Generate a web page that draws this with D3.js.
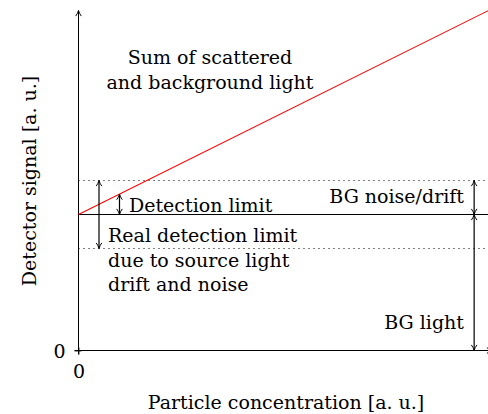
<!DOCTYPE html>
<html><head><meta charset="utf-8">
<script src="https://cdn.jsdelivr.net/npm/d3@7"></script>
<style>body{margin:0;background:#fff}svg{display:block}text{font-family:"DejaVu Serif",serif;fill:#000}</style>
</head><body><svg id="c" width="488" height="414"></svg>
<script>
// data
const xDomain = [0, 10];
const yDomain = [0, 10];
const bgLevel = [4];
const noise = [1];
const sumLine = [[0, 4], [10, 10]];
const detX = [1];
const realX = [0.5];
const rightX = [9.65];
const xTicks = [0];
const yTicks = [0];
const labels = {
  sum: ["Sum of scattered", "and background light"],
  det: ["Detection limit"],
  real: ["Real detection limit", "due to source light", "drift and noise"],
  bgNoise: ["BG noise/drift"],
  bgLight: ["BG light"],
  xTitle: "Particle concentration [a. u.]",
  yTitle: "Detector signal [a. u.]"
};

const svg = d3.select("#c");
const x = d3.scaleLinear().domain(xDomain).range([78.5, 488.5]);
const y = d3.scaleLinear().domain(yDomain).range([350.5, 10.5]);
const FS = 19;

const defs = svg.append("defs");
defs.append("marker").attr("id","ah").attr("viewBox","0 0 10 10").attr("refX",9).attr("refY",5)
  .attr("markerWidth",7).attr("markerHeight",7).attr("markerUnits","userSpaceOnUse").attr("orient","auto-start-reverse")
  .append("path").attr("d","M1,1 Q5,4 9,5 Q5,6 1,9").attr("fill","none").attr("stroke","#000").attr("stroke-width",1.4);

// ticks via d3 axes
const xAxis = d3.axisBottom(x).tickValues(xTicks).tickSize(4).tickFormat(d3.format("d"));
const yAxis = d3.axisLeft(y).tickValues(yTicks).tickSize(4).tickFormat(d3.format("d"));
const gx = svg.append("g").attr("transform",`translate(0,${y(0)})`).call(xAxis);
gx.select(".domain").remove();
gx.selectAll("text").attr("font-size",FS).attr("y",27).attr("dy",0).attr("font-family","DejaVu Serif, serif");
const gy = svg.append("g").attr("transform",`translate(${x(0)},0)`).call(yAxis);
gy.select(".domain").remove();
gy.selectAll("text").attr("font-size",FS).attr("x",-13).attr("dy","0.35em").attr("font-family","DejaVu Serif, serif");
svg.selectAll(".tick line").attr("stroke","#000").attr("stroke-width",0.8);
gx.selectAll(".tick line").attr("y1",-3).attr("y2",4);
gy.selectAll(".tick line").attr("x1",3).attr("x2",-4);

// axis lines with arrows
svg.append("line").attr("x1",x(0)).attr("x2",x(0)).attr("y1",y(0)+4).attr("y2",y(10)).attr("stroke","#000").attr("stroke-width",1).attr("marker-end","url(#ah)");
svg.append("line").attr("x1",x(0)-4).attr("x2",x(10)+4).attr("y1",y(0)).attr("y2",y(0)).attr("stroke","#000").attr("stroke-width",1).attr("marker-end","url(#ah)");

// dotted noise lines
[bgLevel[0]+noise[0], bgLevel[0]-noise[0]].forEach(v=>{
  svg.append("line").attr("x1",x(0)).attr("x2",x(10)).attr("y1",y(v)).attr("y2",y(v))
    .attr("stroke","#000").attr("stroke-width",1).attr("stroke-dasharray","1 4");
});
// BG line
svg.append("line").attr("x1",x(0)).attr("x2",x(10)).attr("y1",y(bgLevel[0])).attr("y2",y(bgLevel[0])).attr("stroke","#000").attr("stroke-width",1.1);
// red line
svg.append("path").datum(sumLine).attr("d",d3.line().x(d=>x(d[0])).y(d=>y(d[1]))).attr("fill","none").attr("stroke","#f00").attr("stroke-width",1.1);

function dbl(xv, v1, v2){
  svg.append("line").attr("x1",x(xv)).attr("x2",x(xv)).attr("y1",y(v1)).attr("y2",y(v2))
    .attr("stroke","#000").attr("stroke-width",1.2).attr("marker-start","url(#ah)").attr("marker-end","url(#ah)");
}
const lineAt = xv => sumLine[0][1] + (sumLine[1][1]-sumLine[0][1])*(xv-sumLine[0][0])/(sumLine[1][0]-sumLine[0][0]);
dbl(detX[0], lineAt(detX[0]), bgLevel[0]);
dbl(realX[0], bgLevel[0]+noise[0], bgLevel[0]-noise[0]);
dbl(rightX[0], bgLevel[0]+noise[0], bgLevel[0]);
dbl(rightX[0], bgLevel[0], 0);

function txt(lines, px, py, anchor, lh){
  const t = svg.append("text").attr("font-size",FS).attr("text-anchor",anchor);
  lines.forEach((s,i)=> t.append("tspan").attr("x",px).attr("y",py+i*lh).text(s));
}
txt(labels.sum, 210, 64, "middle", 25);
txt(labels.det, 129, 212, "start", 25);
txt(labels.real, 108, 242, "start", 24.5);
txt(labels.bgNoise, 464, 203, "end", 25);
txt(labels.bgLight, 464, 329, "end", 25);
svg.append("text").attr("font-size",FS).attr("text-anchor","middle").attr("x",286).attr("y",409).text(labels.xTitle);
svg.append("text").attr("font-size",FS).attr("text-anchor","middle").attr("transform","translate(36,181) rotate(-90)").text(labels.yTitle);
</script></body></html>
